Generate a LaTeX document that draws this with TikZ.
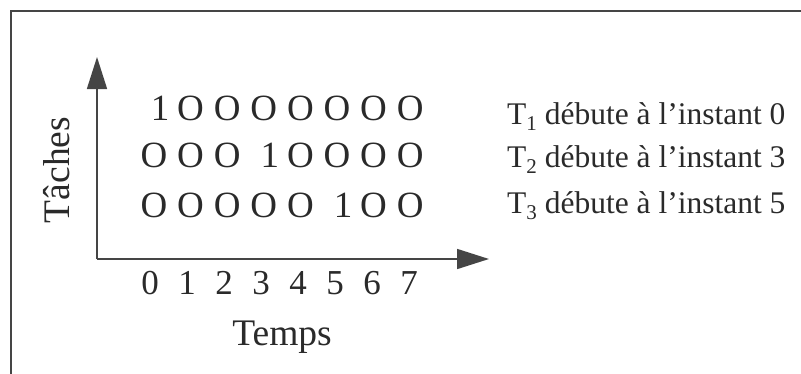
\documentclass[tikz,border=0pt]{standalone}
\usepackage{fontspec}
\setmainfont{Liberation Serif}
\usetikzlibrary{arrows.meta}
\definecolor{ink}{HTML}{2A2A2A}
\definecolor{lineink}{HTML}{454545}
\tikzset{
  cell/.style={inner sep=0pt, anchor=base, text=ink, font=\fontsize{37}{37}\selectfont},
  tick/.style={inner sep=0pt, anchor=base, text=ink, font=\fontsize{35}{35}\selectfont},
  info/.style={inner sep=0pt, anchor=base west, text=ink, font=\fontsize{31.5}{31.5}\selectfont},
  axtitle/.style={inner sep=0pt, anchor=base, text=ink, font=\fontsize{37.5}{37.5}\selectfont},
  axis/.style={draw=lineink, line width=1.6pt, -{Triangle[length=32pt,width=20pt]}, fill=lineink},
  frameline/.style={draw=lineink, line width=2.6pt}
}
\newcommand{\sub}[1]{\raisebox{-6pt}{\fontsize{21}{21}\selectfont #1}}
\begin{document}
\begin{tikzpicture}[x=1pt,y=-1pt]
\useasboundingbox (0,0) rectangle (801,373);
% frame (partial)
\coordinate (fbl) at (11,380);
\coordinate (ftl) at (11,11);
\coordinate (ftr) at (805,11);
\draw[frameline] (fbl) -- (ftl) -- (ftr);
% axes
\coordinate (O) at (97,259);
\coordinate (ytip) at (97,57);
\coordinate (xtip) at (489,259);
\draw[axis] (O) -- (ytip);
\draw[axis] (O) -- (xtip);
% rows
\foreach \i in {0,...,7}{
  \ifnum\i=0 \node[cell] (ra\i) at ({154+36.6*\i+6},120) {1};\else\node[cell] (ra\i) at ({154+36.6*\i},120) {O};\fi
}
\foreach \i in {0,...,7}{
  \ifnum\i=3 \node[cell] (rb\i) at ({154+36.6*\i+6},167) {1};\else\node[cell] (rb\i) at ({154+36.6*\i},167) {O};\fi
}
\foreach \i in {0,...,7}{
  \ifnum\i=5 \node[cell] (rc\i) at ({154+36.6*\i+6},217) {1};\else\node[cell] (rc\i) at ({154+36.6*\i},217) {O};\fi
}
% ticks
\foreach \i in {0,...,7}{
  \node[tick] (t\i) at ({150+37*\i},294) {\i};
}
% labels
\node[info] (l1) at (507,124) {T\sub{1} débute à l’instant 0};
\node[info] (l2) at (507,167) {T\sub{2} débute à l’instant 3};
\node[info] (l3) at (507,213) {T\sub{3} débute à l’instant 5};
% axis titles
\node[axtitle, rotate=90] (ylab) at (69,170) {Tâches};
\node[axtitle] (xlab) at (282,345) {Temps};
\end{tikzpicture}
\end{document}
